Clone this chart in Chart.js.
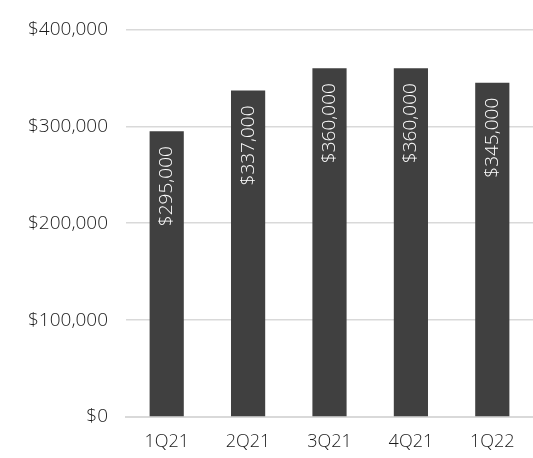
<!DOCTYPE html>
<html>
<head>
<meta charset="utf-8">
<script src="https://cdn.jsdelivr.net/npm/chart.js@4/dist/chart.umd.min.js"></script>
<style>
  html, body { margin: 0; padding: 0; background: #ffffff; }
  #wrap { width: 533px; height: 458px; position: relative; }
</style>
</head>
<body>
<div id="wrap"><canvas id="c"></canvas></div>
<script>
// Quarterly values
const quarters = ['1Q21', '2Q21', '3Q21', '4Q21', '1Q22'];
const amounts = [295000, 337000, 360000, 360000, 345000];
const yTicks = [0, 100000, 200000, 300000, 400000];

const FONT = "'Open Sans', Lato, sans-serif";
const money = v => '$' + v.toLocaleString('en-US');

// Draws each bar's value vertically inside the top of the bar
const verticalValueLabels = {
  id: 'verticalValueLabels',
  afterDatasetsDraw(chart) {
    const ctx = chart.ctx;
    const meta = chart.getDatasetMeta(0);
    ctx.save();
    ctx.fillStyle = '#ffffff';
    ctx.font = '300 19px ' + FONT;
    ctx.textAlign = 'right';
    ctx.textBaseline = 'middle';
    meta.data.forEach((bar, i) => {
      ctx.save();
      ctx.translate(bar.x, bar.y + 15);
      ctx.rotate(-Math.PI / 2);
      ctx.fillText(money(amounts[i]), 0, 0);
      ctx.restore();
    });
    ctx.restore();
  }
};

new Chart(document.getElementById('c'), {
  type: 'bar',
  data: {
    labels: quarters,
    datasets: [{
      data: amounts,
      backgroundColor: '#404040',
      borderWidth: 0,
      categoryPercentage: 1,
      barPercentage: 0.42
    }]
  },
  options: {
    responsive: true,
    maintainAspectRatio: false,
    animation: false,
    layout: { padding: { top: 18, right: 0, left: 0, bottom: 0 } },
    plugins: { legend: { display: false }, tooltip: { enabled: false } },
    scales: {
      x: {
        afterFit: scale => { scale.height = 41; },
        grid: { display: false, drawTicks: false },
        border: { display: true, color: '#d9d9d9', width: 2 },
        ticks: { color: '#1a1a1a', font: { family: FONT, size: 18, weight: 300 }, padding: 14 }
      },
      y: {
        min: 0,
        max: 400000,
        afterBuildTicks: scale => { scale.ticks = yTicks.map(v => ({ value: v })); },
        afterFit: scale => { scale.width = 126; },
        grid: { color: '#d9d9d9', lineWidth: 1.5, drawTicks: false },
        border: { display: false },
        ticks: {
          color: '#1a1a1a',
          font: { family: FONT, size: 19, weight: 300 },
          padding: 18,
          callback: v => money(v)
        }
      }
    }
  },
  plugins: [verticalValueLabels]
});
</script>
</body>
</html>
